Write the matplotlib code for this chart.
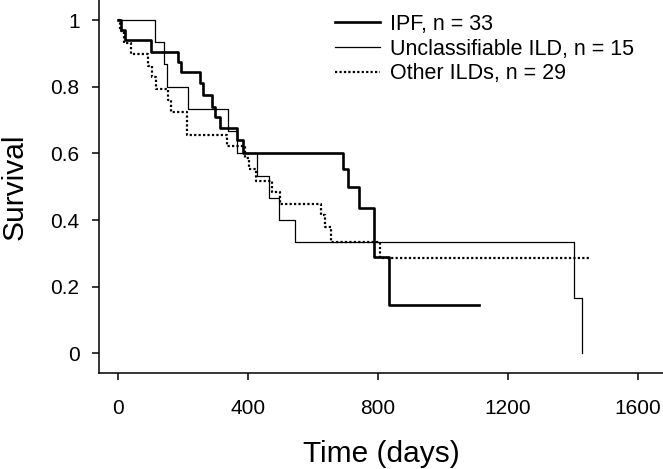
import matplotlib
matplotlib.use("Agg")
import matplotlib.pyplot as plt

plt.rcParams['font.family'] = ['Liberation Sans', 'DejaVu Sans']

# Kaplan-Meier curves (days, survival)
ipf_t = [0, 10, 20, 100, 185, 195, 252, 260, 288, 298, 313, 365, 385, 693, 707, 742, 789, 835, 1110]
ipf_s = [1.0, 0.97, 0.94, 0.905, 0.875, 0.845, 0.81, 0.775, 0.74, 0.71, 0.675, 0.64, 0.6,
         0.552, 0.498, 0.435, 0.29, 0.145, 0.145]

uncl_t = [0, 113, 142, 149, 216, 339, 365, 429, 465, 496, 544, 1405, 1428]
uncl_s = [1.0, 0.933, 0.867, 0.8, 0.733, 0.667, 0.6, 0.533, 0.467, 0.4, 0.333, 0.167, 0.0]

other_t = [0, 5, 18, 41, 92, 105, 118, 154, 164, 213, 334, 390, 403, 426, 475, 498,
           626, 638, 655, 806, 1453]
other_s = [1.0, 0.966, 0.931, 0.897, 0.862, 0.828, 0.793, 0.759, 0.724, 0.655, 0.621,
           0.586, 0.552, 0.517, 0.483, 0.448, 0.414, 0.379, 0.335, 0.285, 0.285]

labels = ["IPF, n = 33", "Unclassifiable ILD, n = 15", "Other ILDs, n = 29"]
x_ticks = [0, 400, 800, 1200, 1600]
y_ticks = [0, 0.2, 0.4, 0.6, 0.8, 1]
y_tick_labels = ["0", "0.2", "0.4", "0.6", "0.8", "1"]

fig = plt.figure(figsize=(6.63, 4.69), dpi=100)
ax = fig.add_axes([99 / 663, 96 / 469, 564 / 663, 373 / 469])

ax.step(ipf_t, ipf_s, where='post', color='black', lw=1.9, label=labels[0])
ax.step(uncl_t, uncl_s, where='post', color='black', lw=0.9, label=labels[1])
ax.step(other_t, other_s, where='post', color='black', lw=1.6, linestyle=(0, (1, 1)),
        label=labels[2])

ax.set_xlim(-59, 1678)
ax.set_ylim(-0.0585, 1.06)
ax.set_xticks(x_ticks)
ax.set_yticks(y_ticks)
ax.set_yticklabels(y_tick_labels)

for side in ['top', 'right']:
    ax.spines[side].set_visible(False)
for side in ['left', 'bottom']:
    ax.spines[side].set_linewidth(1.1)
ax.tick_params(direction='out', length=5, width=1.1, labelsize=15)
ax.tick_params(axis='x', pad=13.5)
ax.tick_params(axis='y', pad=9)

ax.set_xlabel("Time (days)", fontsize=21.5, labelpad=16)
ax.set_ylabel("Survival", fontsize=21.5, labelpad=16)

ax.legend(loc='upper left', bbox_to_anchor=(335 / 663, 1 - 14 / 469),
          bbox_transform=fig.transFigure, frameon=False, fontsize=15.5,
          handlelength=2.1, handletextpad=0.45, labelspacing=0.17, borderpad=0,
          borderaxespad=0)

fig.savefig("out.png", dpi=100)
